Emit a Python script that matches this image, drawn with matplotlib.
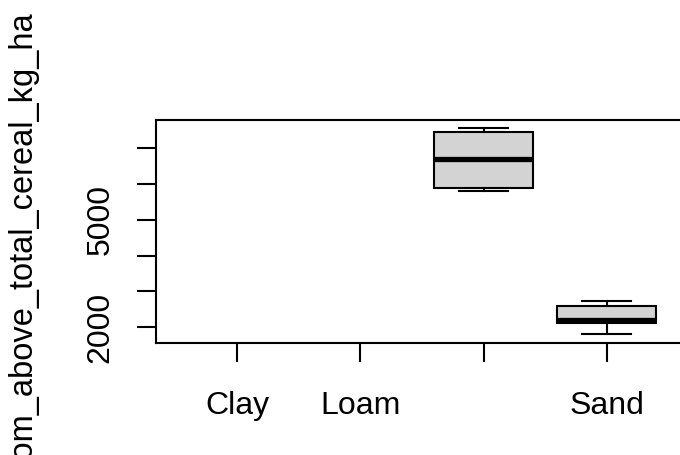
import matplotlib
matplotlib.use("Agg")
import matplotlib.pyplot as plt

plt.rcParams['font.family'] = ['Liberation Sans', 'DejaVu Sans']

# Soil type groups (third label is not drawn in the reference)
categories = ["Clay", "Loam", "", "Sand"]
positions = [1, 2, 3, 4]

# Box statistics per group (None = no data)
whislo = [None, None, 5800, 1795]
q1 = [None, None, 5890, 2110]
med = [None, None, 6705, 2210]
q3 = [None, None, 7445, 2580]
whishi = [None, None, 7555, 2735]

y_ticks = [2000, 3000, 4000, 5000, 6000, 7000]
y_ticklabels = ["2000", "", "", "5000", "", ""]
ylabel = "biom_above_total_cereal_kg_ha"

# Build stats for bxp
stats = []
stat_pos = []
for i in range(len(categories)):
    if med[i] is None:
        continue
    stats.append(dict(whislo=whislo[i], q1=q1[i], med=med[i], q3=q3[i],
                      whishi=whishi[i], fliers=[]))
    stat_pos.append(positions[i])

fig = plt.figure(figsize=(6.8, 4.55), dpi=100)
ax = fig.add_axes([156 / 680, (455 - 342.7) / 455, 532 / 680, 222.7 / 455])

ax.bxp(stats, positions=stat_pos, widths=0.8, capwidths=0.4,
       patch_artist=True, showfliers=False,
       boxprops=dict(facecolor="#D3D3D3", edgecolor="black", linewidth=1.5),
       medianprops=dict(color="black", linewidth=3.8, solid_capstyle="butt"),
       whiskerprops=dict(color="black", linewidth=1.5),
       capprops=dict(color="black", linewidth=1.5))

# R-style axis ranges (4% expansion)
lo = min(v for v in whislo if v is not None)
hi = max(v for v in whishi if v is not None)
rng = hi - lo
ax.set_ylim(lo - 0.04 * rng, hi + 0.04 * rng)
ax.set_xlim(0.5 - 0.16, 4.5 + 0.16)

ax.set_xticks(positions)
ax.set_xticklabels(categories, fontsize=23)
ax.set_yticks(y_ticks)
ax.set_yticklabels(y_ticklabels, fontsize=23, rotation=90, va="center")
ax.tick_params(axis="x", length=14, width=1.5, pad=21)
ax.tick_params(axis="y", length=14, width=1.5, pad=15)
for s in ax.spines.values():
    s.set_linewidth(1.5)

# The y label runs off the bottom edge, as in the reference
fig.text(22 / 680, 1 - 10 / 455, ylabel, rotation=90, va="top", ha="center",
         fontsize=23.5)

fig.savefig("out.png", dpi=100)
